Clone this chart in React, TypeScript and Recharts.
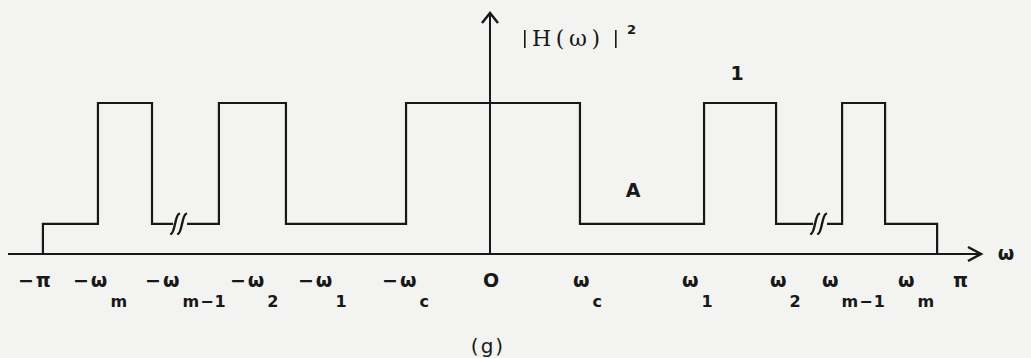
import { Label, Line, LineChart, ReferenceDot, ReferenceLine, XAxis, YAxis } from "recharts";

const PI = 3.1416;

// band edges in rad, and the squared magnitude held between consecutive edges
const edgeOmega = [-PI, -2.755, -2.375, -1.905, -1.434, -0.59, 0.632, 1.504, 2.01, 2.474, 2.776, PI];
const bandLevel = [0.2, 1, 0.2, 1, 0.2, 1, 0.2, 1, 0.2, 1, 0.2];
const PASS_LEVEL = 1;
const STOP_LEVEL = 0.2;

// tick labels along the ω axis
const tickOmega = [-PI, -2.755, -2.375, -1.905, -1.434, -0.59, 0, 0.632, 1.504, 2.01, 2.474, 2.776, PI];
const tickMain = ["−π", "−ω", "−ω", "−ω", "−ω", "−ω", "O", "ω", "ω", "ω", "ω", "ω", "π"];
const tickSub = ["", "m", "m−1", "2", "1", "c", "", "c", "1", "2", "m−1", "m", ""];

// where the "//" breaks sit on the stop-band segments
const breakOmega = [-2.178, 2.319];

const X_MIN = -3.387;
const X_MAX = 3.443;
const Y_MAX = 1.596;

// horizontal nudge of each tick label from its edge
const tickDx = [-25, -25, -7, 11, 12, -24, -7, -7, -22, -6, -20, 13, 16];

const INK = "#181818";
const PAPER = "#f3f3f1";
const FONT = "'DejaVu Sans', sans-serif";

const chartData = [
  { omega: edgeOmega[0], level: 0 },
  ...bandLevel.flatMap((level, i) => [
    { omega: edgeOmega[i], level },
    { omega: edgeOmega[i + 1], level },
  ]),
  { omega: edgeOmega[edgeOmega.length - 1], level: 0 },
];

function OmegaTick(props: any) {
  const { x, y, payload } = props;
  const i = tickOmega.indexOf(payload.value);
  if (i < 0) return null;
  return (
    <text x={x + tickDx[i]} y={y + 33} fill={INK} fontFamily={FONT} fontWeight="bold" fontSize={19} letterSpacing={2}>
      <tspan>{tickMain[i]}</tspan>
      {tickSub[i] && (
        <tspan dx={1} dy={20} fontSize={16} letterSpacing={1}>
          {tickSub[i]}
        </tspan>
      )}
    </text>
  );
}

function BreakMark({ cx, cy }: any) {
  return (
    <g stroke={INK} strokeWidth={2.4} fill="none" strokeLinecap="round">
      <rect x={cx - 7} y={cy - 3} width={14} height={6} fill={PAPER} stroke="none" />
      <path d={`M${cx - 9},${cy + 10} C${cx - 5},${cy + 9} ${cx - 5},${cy - 9} ${cx - 1},${cy - 10}`} />
      <path d={`M${cx - 2},${cy + 10} C${cx + 2},${cy + 9} ${cx + 2},${cy - 9} ${cx + 6},${cy - 10}`} />
    </g>
  );
}

function YArrow({ cx, cy }: any) {
  return (
    <g fill={INK}>
      <path d={`M${cx - 8},${cy + 10} L${cx},${cy} L${cx + 8},${cy + 10}`} stroke={INK} strokeWidth={2.5} fill="none" />
      <rect x={cx + 34} y={cy + 17} width={1.6} height={18} />
      <text
        x={cx + 42}
        y={cy + 33}
        fontFamily="'DejaVu Serif', serif"
        fontSize={22}
        textLength={68}
        lengthAdjust="spacing"
      >
        H(ω)
      </text>
      <rect x={cx + 125} y={cy + 17} width={1.6} height={18} />
      <text x={cx + 137} y={cy + 21} fontFamily={FONT} fontWeight="bold" fontSize={13}>
        2
      </text>
    </g>
  );
}

function XArrow({ cx, cy }: any) {
  return (
    <g>
      <path d={`M${cx - 12},${cy - 7} L${cx + 1},${cy} L${cx - 12},${cy + 7}`} stroke={INK} strokeWidth={2.5} fill="none" />
      <text x={cx + 26} y={cy + 6} textAnchor="middle" fill={INK} fontFamily={FONT} fontWeight="bold" fontSize={19}>
        ω
      </text>
    </g>
  );
}

function LevelText({ cx, cy, text, dx, dy }: any) {
  return (
    <text x={cx + dx} y={cy + dy} textAnchor="middle" fill={INK} fontFamily={FONT} fontWeight="bold" fontSize={19}>
      {text}
    </text>
  );
}

export default function App() {
  return (
    <div style={{ position: "absolute", left: 0, top: 0, width: 1031, height: 358, background: PAPER }}>
      <LineChart width={1031} height={358} data={chartData} margin={{ top: 13, right: 51, bottom: 0, left: 8 }}>
        <XAxis
          dataKey="omega"
          type="number"
          domain={[X_MIN, X_MAX]}
          allowDataOverflow
          ticks={tickOmega}
          interval={0}
          height={104}
          tickSize={0}
          tickMargin={0}
          tickLine={false}
          axisLine={{ stroke: INK, strokeWidth: 2 }}
          tick={<OmegaTick />}
        >
          <Label
            value="(g)"
            position="insideBottom"
            offset={5}
            dx={-6}
            fill={INK}
            fontFamily={FONT}
            fontSize={20}
            letterSpacing={2}
          />
        </XAxis>
        <YAxis type="number" domain={[0, Y_MAX]} allowDataOverflow hide />
        <ReferenceLine x={0} stroke={INK} strokeWidth={2} />
        <Line
          dataKey="level"
          type="linear"
          stroke={INK}
          strokeWidth={2.2}
          dot={false}
          isAnimationActive={false}
        />
        {breakOmega.map((w) => (
          <ReferenceDot key={w} x={w} y={STOP_LEVEL} r={0} shape={<BreakMark />} />
        ))}
        <ReferenceDot x={0} y={Y_MAX} r={0} ifOverflow="visible" shape={<YArrow />} />
        <ReferenceDot x={X_MAX} y={0} r={0} ifOverflow="visible" shape={<XArrow />} />
        <ReferenceDot
          x={(edgeOmega[7] + edgeOmega[8]) / 2}
          y={PASS_LEVEL}
          r={0}
          shape={<LevelText text="1" dx={-3} dy={-23} />}
        />
        <ReferenceDot
          x={(edgeOmega[6] + edgeOmega[7]) / 2}
          y={STOP_LEVEL}
          r={0}
          shape={<LevelText text="A" dx={-9} dy={-27} />}
        />
      </LineChart>
    </div>
  );
}
